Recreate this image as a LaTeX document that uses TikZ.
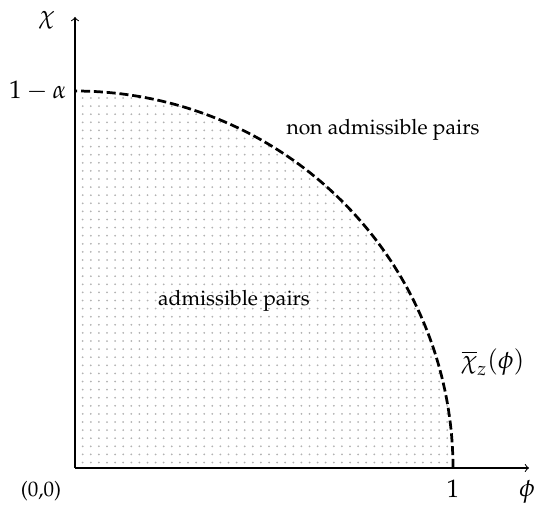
\documentclass[tikz,border=0pt]{standalone}
\usepackage[T1]{fontenc}
\usepackage{mathpazo}
\begin{document}
\begin{tikzpicture}[x=0.475pt,y=-0.475pt,
  axis/.style={line width=0.5pt,->},
  bound/.style={line width=1.3pt,dash pattern=on 4.3pt off 1.8pt},
  dotfill/.style={fill=black!30},
  lbl/.style={inner sep=0pt}]
\useasboundingbox (0,0) rectangle (536,508);
\coordinate (O) at (75,468);
\coordinate (ytip) at (75,17);
\coordinate (xtip) at (529,468);
% dotted region
\begin{scope}
  \clip (O) -- plot[domain=0:90,samples=80] ({75+378*cos(\x)},{468-377*sin(\x)}) -- cycle;
  \foreach \i in {0,...,46}{
    \foreach \j in {0,...,45}{
      \fill[dotfill] ({82.7+8.1*\i},{98+8.1*\j}) circle[radius=1];
    }
  }
\end{scope}
% axes
\draw[axis] (O) -- (ytip);
\draw[axis] (O) -- (xtip);
% boundary curve
\draw[bound] plot[domain=0:90,samples=90] ({75+378*cos(\x)},{468-377*sin(\x)});
% labels
\node[lbl] (chi) at (47,20) {\large$\chi$};
\node[lbl,anchor=east] (oma) at (67,91) {\large$1-\alpha$};
\node[lbl] (non) at (383,130) {non admissible pairs};
\node[lbl] (adm) at (234,301) {admissible pairs};
\node[lbl] (chibar) at (493,362) {\large$\overline{\chi}_z(\phi)$};
\node[lbl] (one) at (453,489) {\large$1$};
\node[lbl] (phi) at (527,492) {\large$\phi$};
\node[lbl] (orig) at (41,491) {(0,0)};
\end{tikzpicture}
\end{document}
